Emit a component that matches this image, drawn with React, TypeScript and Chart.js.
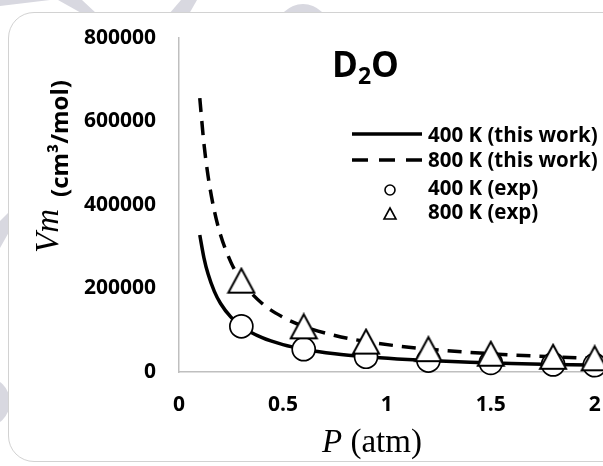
import React, { useEffect, useRef } from "react";
import { Chart, registerables } from "chart.js";

Chart.register(...registerables);

// ---- data ----
const P_CURVE = [0.1, 0.12, 0.14, 0.17, 0.2, 0.25, 0.3, 0.4, 0.5, 0.6, 0.75, 0.9, 1.05, 1.2, 1.4, 1.6, 1.8, 2.0, 2.1];
const V400_CURVE = [328000, 273500, 234500, 193100, 164100, 131300, 109400, 82100, 65600, 54700, 43800, 36500, 31300, 27400, 23400, 20500, 18200, 16400, 15600];
const V800_CURVE = [656000, 547000, 469000, 386200, 328200, 262600, 218800, 164100, 131300, 109400, 87500, 72900, 62500, 54700, 46900, 41000, 36500, 32800, 31300];
const P_EXP = [0.3, 0.6, 0.9, 1.2, 1.5, 1.8, 2.0];
const V400_EXP = [109400, 54700, 36500, 27400, 21900, 18200, 16400];
const V800_EXP = [218800, 109400, 72900, 54700, 43800, 36500, 32800];
const X_TICKS = [0, 0.5, 1, 1.5, 2];
const Y_TICKS = [0, 200000, 400000, 600000, 800000];
const SERIES_LABELS = ["400 K (this work)", "800 K (this work)", "400 K (exp)", "800 K (exp)"];

const W = 603;
const H = 466;
const SANS = "'Open Sans', 'Noto Sans', sans-serif";
const SERIF = "'Liberation Serif', 'DejaVu Serif', serif";

function makeTriangle(w: number, h: number, lw: number): HTMLCanvasElement {
  const c = document.createElement("canvas");
  c.width = w;
  c.height = h;
  const g = c.getContext("2d")!;
  const m = lw;
  g.beginPath();
  g.moveTo(w / 2, m);
  g.lineTo(w - m, h - m);
  g.lineTo(m, h - m);
  g.closePath();
  g.fillStyle = "#ffffff";
  g.fill();
  g.lineWidth = lw;
  g.strokeStyle = "#000000";
  g.lineJoin = "miter";
  g.stroke();
  return c;
}

const overlayPlugin = {
  id: "overlay",
  afterDraw(chart: any) {
    const ctx: CanvasRenderingContext2D = chart.ctx;
    const a = chart.chartArea;
    ctx.save();
    ctx.fillStyle = "#000";
    ctx.strokeStyle = "#000";

    // Title D2O
    ctx.textBaseline = "alphabetic";
    ctx.textAlign = "left";
    ctx.font = `bold 35px ${SANS}`;
    let tx = a.left + 153;
    const ty = a.top + 39;
    ctx.fillText("D", tx, ty);
    tx += ctx.measureText("D").width;
    ctx.font = `bold 23px ${SANS}`;
    ctx.fillText("2", tx, ty + 7);
    tx += ctx.measureText("2").width;
    ctx.font = `bold 35px ${SANS}`;
    ctx.fillText("O", tx, ty);

    // Legend
    const lx0 = a.left + 173;
    const lx1 = a.left + 243;
    const textX = a.left + 249;
    const rows = [a.top + 98, a.top + 123, a.top + 151, a.top + 175];
    ctx.font = `bold 20.5px ${SANS}`;
    ctx.textBaseline = "middle";
    rows.forEach((y, i) => {
      ctx.fillStyle = "#000";
      ctx.fillText(SERIES_LABELS[i], textX, y);
    });
    ctx.lineWidth = 3.5;
    ctx.beginPath();
    ctx.moveTo(lx0, rows[0] - 2);
    ctx.lineTo(lx1, rows[0] - 2);
    ctx.stroke();
    ctx.setLineDash([16, 11]);
    ctx.beginPath();
    ctx.moveTo(lx0, rows[1] - 1);
    ctx.lineTo(lx1, rows[1] - 1);
    ctx.stroke();
    ctx.setLineDash([]);
    const mx = (lx0 + lx1) / 2 + 3;
    ctx.lineWidth = 1.6;
    ctx.beginPath();
    ctx.arc(mx, rows[2] + 1, 5, 0, Math.PI * 2);
    ctx.fillStyle = "#fff";
    ctx.fill();
    ctx.stroke();
    ctx.beginPath();
    ctx.moveTo(mx, rows[3] - 5);
    ctx.lineTo(mx + 6, rows[3] + 6);
    ctx.lineTo(mx - 6, rows[3] + 6);
    ctx.closePath();
    ctx.fill();
    ctx.stroke();

    // x axis title
    ctx.fillStyle = "#000";
    ctx.textBaseline = "alphabetic";
    const xtitleY = 452;
    let xs = a.left + 143;
    ctx.font = `italic 33px ${SERIF}`;
    ctx.fillText("P", xs, xtitleY);
    xs += ctx.measureText("P").width;
    ctx.font = `33px ${SERIF}`;
    ctx.fillText(" (atm)", xs, xtitleY);

    // y axis title (rotated)
    ctx.save();
    ctx.translate(58, 253);
    ctx.rotate(-Math.PI / 2);
    ctx.font = `italic 33px ${SERIF}`;
    ctx.fillText("Vm", 0, 0);
    ctx.restore();
    ctx.save();
    ctx.translate(68, 197);
    ctx.rotate(-Math.PI / 2);
    ctx.font = `bold 24px ${SANS}`;
    ctx.fillText("(cm³/mol)", 0, 0);
    ctx.restore();

    ctx.restore();
  },
};

export default function App() {
  const ref = useRef<HTMLCanvasElement | null>(null);

  useEffect(() => {
    document.body.style.margin = "0";
    const canvas = ref.current;
    if (!canvas) return;
    const tri = makeTriangle(30, 28, 2);
    const chart = new Chart(canvas, {
      type: "scatter",
      data: {
        datasets: [
          {
            label: SERIES_LABELS[3],
            data: P_EXP.map((p, i) => ({ x: p, y: V800_EXP[i] })),
            showLine: false,
            pointStyle: tri as any,
            pointRadius: 14,
            order: 0,
            clip: false as any,
          },
          {
            label: SERIES_LABELS[2],
            data: P_EXP.map((p, i) => ({ x: p, y: V400_EXP[i] })),
            showLine: false,
            pointStyle: "circle",
            pointRadius: 11.5,
            pointBackgroundColor: "#ffffff",
            pointBorderColor: "#000000",
            pointBorderWidth: 1.7,
            order: 1,
            clip: false as any,
          },
          {
            label: SERIES_LABELS[1],
            data: P_CURVE.map((p, i) => ({ x: p, y: V800_CURVE[i] })),
            showLine: true,
            pointRadius: 0,
            borderColor: "#000000",
            borderWidth: 3.5,
            borderDash: [14, 9],
            cubicInterpolationMode: "monotone",
            order: 2,
          },
          {
            label: SERIES_LABELS[0],
            data: P_CURVE.map((p, i) => ({ x: p, y: V400_CURVE[i] })),
            showLine: true,
            pointRadius: 0,
            borderColor: "#000000",
            borderWidth: 3.5,
            cubicInterpolationMode: "monotone",
            order: 3,
          },
        ],
      },
      options: {
        responsive: false,
        animation: false,
        devicePixelRatio: 1,
        events: [],
        layout: { autoPadding: false, padding: { left: 0, top: 38, right: 0, bottom: 0 } },
        plugins: {
          legend: { display: false },
          tooltip: { enabled: false },
          title: { display: false },
        },
        scales: {
          x: {
            type: "linear",
            min: 0,
            max: 2.04,
            afterBuildTicks: (s: any) => {
              s.ticks = X_TICKS.map((v) => ({ value: v }));
            },
            afterFit: (s: any) => {
              s.height = 94;
              s.paddingLeft = 0;
              s.paddingRight = 0;
            },
            grid: { drawOnChartArea: false, drawTicks: false },
            border: { display: true, color: "#bfbfbf", width: 1.5 },
            ticks: {
              padding: 20,
              color: "#000",
              font: { family: SANS, size: 21, weight: "bold" },
              callback: (v: any) => String(v),
              maxRotation: 0,
            },
          },
          y: {
            type: "linear",
            min: 0,
            max: 800000,
            afterBuildTicks: (s: any) => {
              s.ticks = Y_TICKS.map((v) => ({ value: v }));
            },
            afterFit: (s: any) => {
              s.width = 179;
              s.paddingTop = 0;
              s.paddingBottom = 0;
            },
            grid: { drawOnChartArea: false, drawTicks: false },
            border: { display: true, color: "#bfbfbf", width: 1.5 },
            ticks: {
              padding: 23,
              color: "#000",
              font: { family: SANS, size: 21, weight: "bold" },
              callback: (v: any) => String(v),
            },
          },
        },
      },
      plugins: [overlayPlugin],
    } as any);
    return () => chart.destroy();
  }, []);

  const wm = "#d8d8e0";
  const poly = (pts: string): React.CSSProperties => ({
    position: "absolute",
    left: 0,
    top: 0,
    width: W,
    height: H,
    background: wm,
    clipPath: `polygon(${pts})`,
  });

  return (
    <div style={{ position: "relative", width: W, height: H, overflow: "hidden", background: "#fff" }}>
      <div style={poly("0px 0px, 50px 0px, 0px 6px")} />
      <div style={poly("58px 0px, 82px 0px, 97px 14px, 83px 14px")} />
      <div style={poly("181px 0px, 197px 0px, 189px 14px, 169px 14px")} />
      <div style={poly("0px 221px, 9px 212px, 9px 232px, 0px 248px")} />
      <div style={{ position: "absolute", left: 277, top: 4, width: 52, height: 52, borderRadius: "50%", background: wm }} />
      <div style={{ position: "absolute", left: -40, top: 377, width: 50, height: 50, borderRadius: "50%", background: wm }} />
      <div
        style={{
          position: "absolute",
          left: 8,
          top: 12,
          width: 640,
          height: 450,
          border: "1.5px solid #d2d2d2",
          borderRadius: 26,
          background: "#fff",
          boxSizing: "border-box",
        }}
      />
      <canvas ref={ref} width={W} height={H} style={{ position: "absolute", left: 0, top: 0, width: W, height: H }} />
    </div>
  );
}
